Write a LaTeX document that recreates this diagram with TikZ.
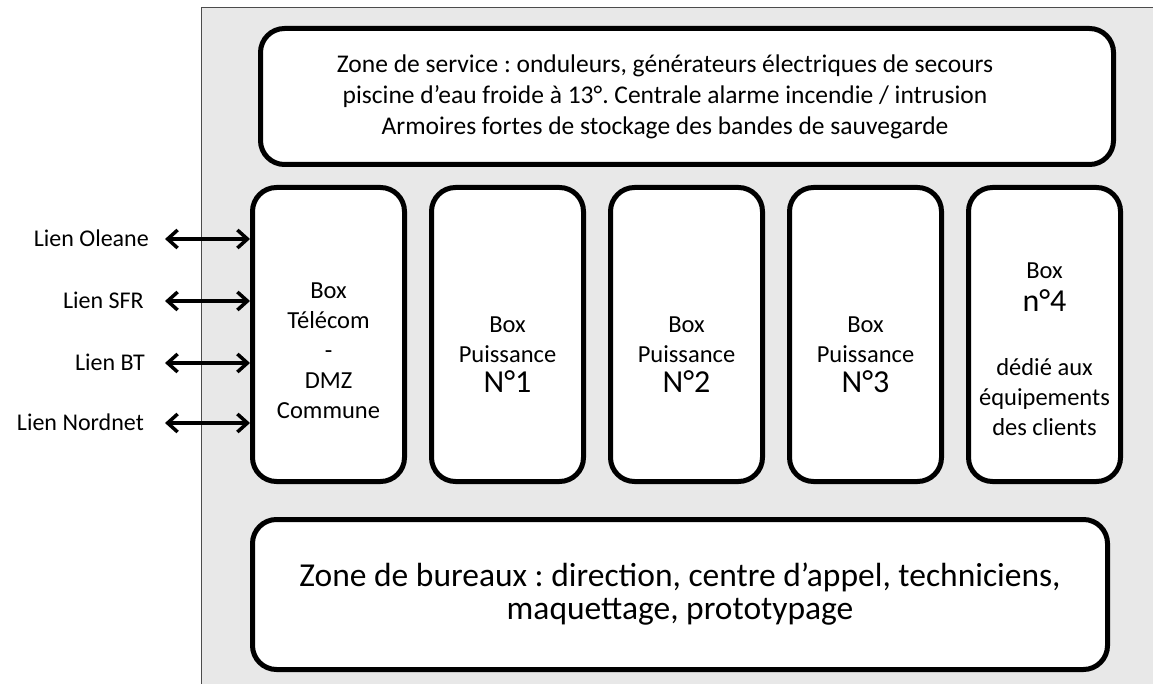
\documentclass[tikz,border=0pt]{standalone}
\usepackage{fontspec}
\setmainfont{Carlito}
\frenchspacing
\usetikzlibrary{arrows.meta,positioning}
\tikzset{
  zone/.style={draw,line width=5pt,rounded corners=24pt,fill=white,inner sep=0pt},
  boxe/.style={zone,minimum width=152pt,minimum height=294pt},
  texte/.style={align=center,inner sep=0pt,font=\fontsize{24.5}{30}\selectfont},
  lien/.style={anchor=east,inner sep=0pt,font=\fontsize{24}{28}\selectfont},
  liaison/.style={{Straight Barb[length=10pt,width=18pt]}-{Straight Barb[length=10pt,width=18pt]},line width=3.5pt}
}
\newcommand{\grand}{\fontsize{32}{34}\selectfont}
\begin{document}
\begin{tikzpicture}[x=1pt,y=-1pt,node distance=22pt]
  \useasboundingbox (0,0) rectangle (1153,684);
  %fond
  \fill[gray!18] (201,8) rectangle (1153,684);
  \draw[line width=1pt,black!70] (201,684) -- (201,8) -- (1153,8);
  %zones
  \node[zone,minimum width=853pt,minimum height=136pt] (service) at (687,96.5) {};
  \node[texte,font=\fontsize{25.5}{31}\selectfont] (tservice) at ([xshift=-22pt]service.center)
    {Zone de service : onduleurs, générateurs électriques de secours\\
     piscine d’eau froide à 13°. Centrale alarme incendie / intrusion\\
     Armoires fortes de stockage des bandes de sauvegarde};
  \node[zone,minimum width=855pt,minimum height=150pt] (bureaux) at (680,594.5) {};
  \node[texte,font=\fontsize{33.5}{33}\selectfont] (tbureaux) at (bureaux.center)
    {Zone de bureaux : direction, centre d’appel, techniciens,\\
     maquettage, prototypage};
  %boxes
  \node[boxe] (telecom) at (328.5,334.5) {};
  \node[boxe,right=of telecom] (p1) {};
  \node[boxe,right=of p1] (p2) {};
  \node[boxe,right=of p2] (p3) {};
  \node[boxe,right=of p3] (b4) {};
  \node[texte] (ttelecom) at ([yshift=-16pt]telecom.center) {Box\\Télécom\\-\\DMZ\\Commune};
  \foreach \b/\n in {p1/1,p2/2,p3/3}
    \node[texte] (t\b) at ([yshift=-20pt]\b.center) {Box\\Puissance\\{\grand N°\n}};
  \node[texte] (tb4) at ([yshift=-15pt]b4.center) {Box\\[3pt]{\grand n°4}\\[34pt]dédié aux\\équipements\\des clients};
  %liens
  \node[lien] (oleane) at (149,238) {Lien Oleane};
  \node[lien] (sfr) at (144,300) {Lien SFR};
  \node[lien] (bt) at (145,362) {Lien BT};
  \node[lien] (nordnet) at (144,422) {Lien Nordnet};
  \foreach \l/\d in {oleane/16,sfr/21,bt/20,nordnet/21}
    \draw[liaison] ([xshift=\d pt,yshift=-1pt]\l.east) -- ([yshift=-1pt]\l.east -| telecom.west);
\end{tikzpicture}
\end{document}
